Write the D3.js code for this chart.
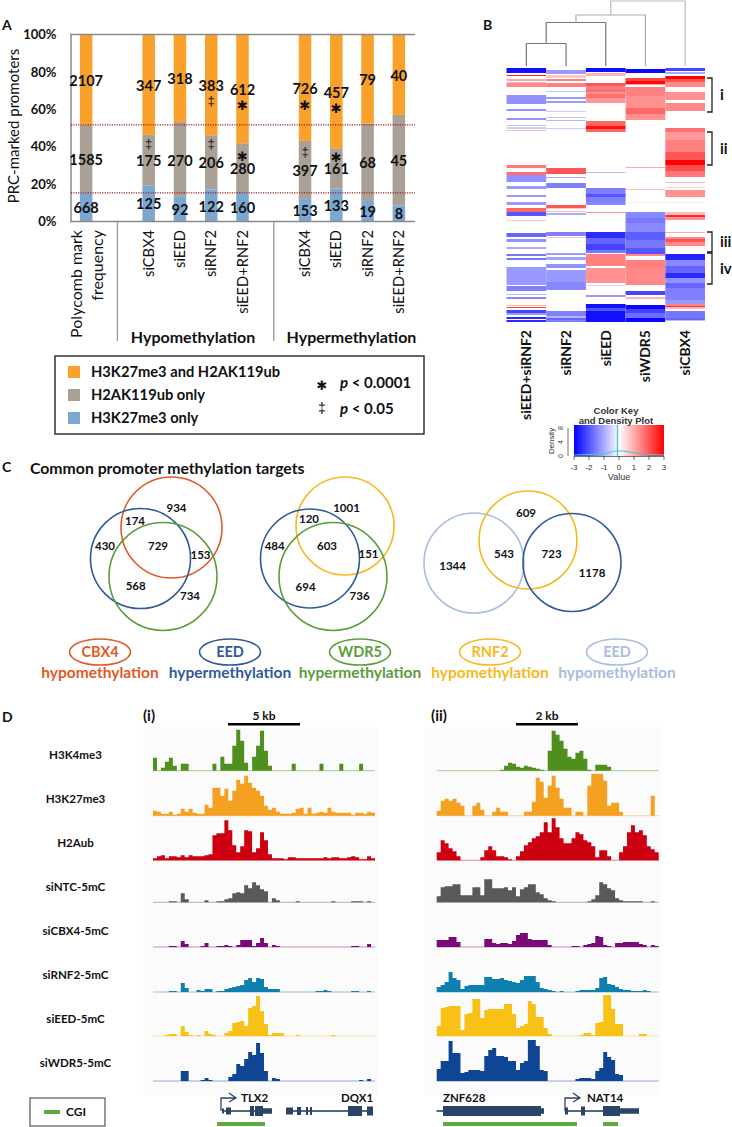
<!DOCTYPE html>
<html><head><meta charset="utf-8">
<script src="https://cdnjs.cloudflare.com/ajax/libs/d3/7.8.5/d3.min.js"></script>
<style>html,body{margin:0;padding:0;background:#fff}svg{display:block}text{font-family:Lato,sans-serif;fill:#111}</style>
</head><body><svg id="c" width="732" height="1127" viewBox="0 0 732 1127"></svg>
<script>
// ---------- Panel A data
const barSlots = ["freq","gapA","hypoCBX4","hypoEED","hypoRNF2","hypoBoth","gapB","hyperCBX4","hyperEED","hyperRNF2","hyperBoth"];
const barCats  = ["freq","hypoCBX4","hypoEED","hypoRNF2","hypoBoth","hyperCBX4","hyperEED","hyperRNF2","hyperBoth"];
const barNames = ["","siCBX4","siEED","siRNF2","siEED+RNF2","siCBX4","siEED","siRNF2","siEED+RNF2"];
const k27Only  = [668,125,92,122,160,153,133,19,8];
const ubOnly   = [1585,175,270,206,280,397,161,68,45];
const both     = [2107,347,318,383,612,726,457,79,40];
const bothLabelPct = [75.3,72.6,76.2,72.5,70.3,71.1,69,75.7,77.8];
const ubLabelPct   = [32.9,32.4,32.6,31.3,28.1,27,28.1,31.3,32.4];
const k27LabelPct  = [7.2,9.4,6.1,7.9,7.2,5.6,8.3,5.1,4];
const sigMarks = [["hypoCBX4",42,"‡"],["hypoRNF2",65,"‡"],["hypoRNF2",42,"‡"],["hypoBoth",61.8,"✱"],["hypoBoth",35,"✱"],["hyperCBX4",62.3,"✱"],["hyperCBX4",37.2,"‡"],["hyperEED",60.7,"✱"],["hyperEED",34.5,"✱"]];
const seriesNames = ["H3K27me3 only","H2AK119ub only","H3K27me3 and H2AK119ub"];
const seriesColors = ["#7ba7d1","#a9a196","#f9a12a"];
const yTicks = [0,.2,.4,.6,.8,1];
const refLines = [0.517,0.153];

// ---------- Panel B data: runs of rows [from,to,value]
const heatCols = ["siEED+siRNF2","siRNF2","siEED","siWDR5","siCBX4"];
const heat1 = [[0,5,-2.8],[7,8,2.6],[11,13,1],[14,15,.8],[15,19,1.4],[27,36,-1.3],[41,43,-1.3],[50,52,-1.3],[57,58,-.8],[59,61,-.6],[62,63,.8],[97,100,1.6],[104,107,1.7],[107,114,-1.3],[118,121,-1.2],[127,129,-1.2],[134,137,-1.2],[140,144,1.8],[144,148,-2],[152,153,.7],[165,169,-1.8],[171,174,-1.3],[179,181,-1],[186,188,-1.6],[190,192,-1.6],[199,217,-1.2],[218,223,-1.5],[226,227,-.9],[229,231,-1.4],[237,238,.9],[239,240,2.3],[242,245,-2.2],[245,247,-1.2],[249,251,-2.5],[252,254,-2.5]];
const heat2 = [[2,6,-1.2],[7,10,.7],[11,13,1.5],[15,19,1.5],[23,24,-.7],[29,31,-1.2],[33,35,-1.2],[43,44,-.6],[49,50,-.7],[52,53,-.9],[60,61,-.6],[100,106,2],[109,110,-1],[115,120,-1.5],[137,140,2],[140,141,.6],[143,144,.9],[145,147,-1],[164,168,-1.5],[169,170,.7],[185,187,-1.2],[189,192,-1.1],[196,200,-1.3],[202,214,-1.2],[214,222,-1.4],[243,248,-1.5],[248,250,-.9],[250,252,-1.8],[252,254,-1.5]];
const heat3 = [[0,4,-2.8],[5,8,.9],[15,18,2],[18,21,1.5],[21,24,1.7],[24,26,1.3],[26,30,1.7],[30,35,1.2],[53,58,1.8],[58,61,2.8],[61,64,1.8],[104,105,-.8],[120,126,-1.5],[126,129,-2],[129,134,-1.5],[134,137,-1.4],[144,145,1.3],[164,170,-2.5],[170,176,-1.8],[176,182,-2.2],[182,185,-1.6],[186,198,1.5],[200,215,1.3],[217,218,-.5],[227,229,-1.2],[236,240,-2.8],[240,243,-2],[243,254,-2.8]];
const heat4 = [[1,5,-2.9],[10,13,2.2],[13,16,2.9],[16,17,1.2],[19,28,1.5],[28,40,1.3],[40,46,1.8],[46,52,1.3],[99,100,1],[121,122,.8],[134,135,.25],[144,150,-1.4],[150,155,-1.6],[155,164,-1.4],[164,172,-1.9],[172,180,-1.6],[180,186,-2],[186,188,1.4],[192,200,1.5],[200,217,1.4],[223,227,-2.2],[229,231,.9],[237,241,-2.9],[241,245,-2.2],[245,250,-1.7],[250,254,-2.9]];
const heat5 = [[0,3,-2.2],[4,6,-1],[8,11,3],[11,14,2],[14,19,1.4],[24,32,1.3],[35,43,1.4],[60,64,1.7],[64,72,1.2],[72,84,1.5],[84,92,2],[92,97,3],[97,103,2.1],[103,109,1.6],[114,115,.9],[119,120,.6],[122,129,1.3],[134,135,.3],[144,147,.8],[147,149,2.5],[149,152,1.3],[164,165,1],[169,171,1.4],[171,174,2],[174,178,1.4],[186,192,-2.6],[192,198,-1.4],[198,205,-1.8],[205,210,-2.5],[210,215,-1.3],[215,220,-1.8],[220,232,-1.5],[232,236,-1.2],[236,238,1.5],[238,239,2.4],[239,241,.8],[243,250,-1.6],[250,252,-1.8],[252,253,-.8]];
const heatRuns = [heat1,heat2,heat3,heat4,heat5];
const dendroMerges = [[0,1,43.5],[null,2,22.5],[null,3,15],[null,4,1]];
const clusterNames = ["i","ii","iii","iv"];
const clusterRows = [[10,44],[64,97],[164,184],[185,216]];
const keyTicks = [-3,-2,-1,0,1,2,3];

// ---------- Panel C data
const vennColors = {cbx:"#e05a26",eed:"#2f5a9a",wdr:"#5a9e3a",rnf:"#f5b921",eedl:"#a9bddd"};
const vennSets = ["cbx","eed","wdr","rnf","eed","wdr","eedl","rnf","eed"];
const vennCounts1 = [934,174,430,729,153,568,734];
const vennCounts2 = [1001,120,484,603,151,694,736];
const vennCounts3 = [609,1344,543,723,1178];
const vennKeys = ["CBX4","EED","WDR5","RNF2","EED"];
const vennKeyDir = ["hypomethylation","hypermethylation","hypermethylation","hypomethylation","hypomethylation"];
const vennKeySets = ["cbx","eed","wdr","rnf","eedl"];

// ---------- Panel D data: signal per 4px genomic bin
const trackNames = ["H3K4me3","H3K27me3","H2Aub","siNTC-5mC","siCBX4-5mC","siRNF2-5mC","siEED-5mC","siWDR5-5mC"];
const trackColors = ["#4f8f1e","#f4a020","#cc0011","#595959","#7a0a78","#0f7fb0","#f7c215","#0f4595"];
const i1 = [13,0,3,9,13,5,0,7,7,0,0,0,0,0,0,7,0,14,7,7,25,41,30,8,0,14,25,40,20,5,0,0,0,0,0,7,0,0,0,0,0,0,7,0,0,0,0,7,0,0,0,0,7,0,0,0];
const i2 = [5,4,2,2,4,1,2,7,4,7,3,2,2,11,8,28,28,20,27,15,25,36,32,40,33,28,25,20,10,6,8,4,2,2,2,3,7,8,2,8,2,3,4,3,8,4,3,3,3,3,1,3,3,2,4,3];
const i3 = [2,4,5,2,4,4,3,5,3,5,4,4,4,5,6,25,27,27,40,30,15,8,14,30,29,8,12,28,20,6,2,2,2,1,3,3,2,2,2,2,2,2,2,3,2,3,3,2,2,3,4,3,1,1,4,2];
const i4 = [0,0,0,0,1,1,0,9,3,0,0,0,0,2,0,0,1,1,3,4,9,10,9,17,14,20,17,13,11,0,4,2,0,0,0,0,1,0,0,0,0,0,0,0,0,1,0,0,0,0,1,1,1,0,1,0];
const i5 = [0,0,0,0,1,1,0,6,3,0,0,0,1,4,0,0,1,1,2,1,0,2,7,7,7,1,4,9,4,0,2,1,0,0,0,0,0,0,0,0,0,0,0,0,0,0,0,0,0,0,1,1,0,0,3,0];
const i6 = [0,0,0,0,1,1,0,9,4,0,0,2,1,3,3,0,1,1,3,4,5,6,7,12,14,10,14,13,5,3,3,3,0,0,0,0,0,0,0,0,0,1,1,2,1,0,0,0,0,0,1,1,0,0,1,0];
const i7 = [0,0,0,1,2,2,0,10,4,1,0,1,0,5,2,1,0,0,3,5,13,14,15,10,28,30,40,25,12,1,3,3,3,0,0,0,1,0,0,0,0,0,0,0,0,1,0,0,0,0,0,0,0,0,0,0];
const i8 = [0,0,0,0,0,0,0,10,10,0,0,0,1,3,1,0,0,0,0,4,7,17,15,22,29,26,38,28,10,0,3,2,0,0,0,0,0,0,0,0,0,0,0,0,0,0,0,0,0,0,0,0,1,0,2,0];
const ii1 = [0,0,0,0,0,0,0,0,0,0,0,0,0,0,0,0,1,5,8,7,4,3,5,4,3,2,1,0,20,40,36,30,22,14,12,18,20,12,1,0,6,6,6,4,0,0,0,0,0,0,0,0,0,0,0,0];
const ii2 = [5,15,17,15,17,13,10,0,0,10,13,6,0,0,4,8,4,4,0,0,0,0,4,4,14,38,34,18,30,40,28,17,8,8,0,4,4,0,30,42,42,42,35,10,13,13,4,0,0,0,0,0,0,0,20,0];
const ii3 = [8,20,17,12,9,4,0,0,0,0,0,3,10,14,10,4,4,3,1,0,4,9,15,18,22,24,28,38,28,42,33,22,17,17,22,28,26,20,18,14,3,10,10,4,0,0,8,14,28,35,28,30,25,14,11,8];
const ii4 = [6,15,16,16,18,18,7,7,7,15,15,7,23,23,14,14,14,15,12,15,6,13,15,18,18,10,8,4,2,1,0,0,0,0,0,0,0,0,1,3,7,20,18,14,12,4,2,1,1,1,1,1,0,0,1,0];
const ii5 = [7,7,7,10,10,5,0,0,0,0,0,0,8,8,4,3,4,4,3,6,12,14,14,8,7,7,7,7,2,0,0,0,0,0,1,1,0,2,3,4,11,10,2,1,0,4,4,5,5,5,5,3,2,0,2,1];
const ii6 = [5,7,10,20,14,12,3,6,7,7,7,7,15,15,13,13,14,12,11,10,9,12,16,16,16,10,4,3,2,1,0,1,0,0,0,1,2,2,2,2,4,14,15,8,7,5,3,2,2,1,1,1,2,1,0,0];
const ii7 = [10,28,29,30,30,30,6,22,23,37,37,18,26,27,27,27,27,32,32,22,8,10,12,35,32,19,19,8,2,0,0,0,0,0,0,0,1,3,3,1,13,14,41,41,27,12,12,0,0,0,0,2,2,0,0,0];
const ii8 = [12,20,20,40,28,28,8,9,11,11,11,10,25,31,33,25,25,24,20,20,11,18,20,41,41,35,11,10,0,0,0,0,0,0,0,2,3,3,3,2,10,13,29,24,21,7,6,0,0,0,0,0,0,0,0,0];
const tracksI = [i1,i2,i3,i4,i5,i6,i7,i8];
const tracksII = [ii1,ii2,ii3,ii4,ii5,ii6,ii7,ii8];
const geneNames = ["TLX2","DQX1","ZNF628","NAT14"];

// ---------- drawing
const svg = d3.select("#c");
const FONT_ARIAL = "'Liberation Sans',sans-serif";
const FONT_MARK = "'DejaVu Sans',sans-serif";
function txt(g,x,y,s,o={}){
  const t=g.append("text").attr("x",x).attr("y",y).attr("dy",".35em").text(s)
    .attr("font-size",o.size||14).attr("font-weight",o.weight||"normal").attr("text-anchor",o.anchor||"middle");
  if(o.fill)t.style("fill",o.fill);
  if(o.family)t.style("font-family",o.family);
  if(o.rotate!=null)t.attr("transform",`rotate(${o.rotate} ${x} ${y})`);
  return t;
}
[["A",2,25],["B",483,25],["C",2,467],["D",2,717]].forEach(d=>txt(svg,d[1],d[2],d[0],{size:14,weight:700,anchor:"start"}));

// Panel A
const A = svg.append("g");
const xA = d3.scaleBand().domain(barSlots).range([70.5,414.5]).paddingInner(.6).paddingOuter(.3);
const yA = d3.scaleLinear().domain([0,1]).range([221.5,34.5]);
const rows = barCats.map((c,i)=>({cat:c,a:k27Only[i],b:ubOnly[i],c:both[i]}));
const stacked = d3.stack().keys(["a","b","c"]).offset(d3.stackOffsetExpand)(rows);
stacked.forEach((s,i)=>{
  A.append("g").selectAll("rect").data(s).join("rect")
    .attr("x",d=>xA(d.data.cat)).attr("width",xA.bandwidth())
    .attr("y",d=>yA(d[1])).attr("height",d=>yA(d[0])-yA(d[1])).attr("fill",seriesColors[i]);
});
const axY = d3.axisLeft(yA).tickValues(yTicks).tickFormat(d3.format(".0%")).tickSize(0).tickPadding(14);
const axg = A.append("g").attr("transform","translate(70.5,0)").call(axY);
axg.select(".domain").attr("stroke","#8a8a8a").attr("stroke-width",1.5);
axg.selectAll("text").attr("font-size",13).attr("font-weight",700).style("font-family","Lato,sans-serif");
A.append("line").attr("x1",70).attr("x2",415).attr("y1",yA(1)).attr("y2",yA(1)).attr("stroke","#8a8a8a").attr("stroke-width",1.5);
A.append("line").attr("x1",70).attr("x2",415).attr("y1",yA(0)).attr("y2",yA(0)).attr("stroke","#8a8a8a").attr("stroke-width",1.5);
refLines.forEach(v=>A.append("line").attr("x1",71).attr("x2",415).attr("y1",yA(v)).attr("y2",yA(v)).attr("stroke","#a32020").attr("stroke-width",1.2).attr("stroke-dasharray","1.2 1.2"));
["gapA","gapB"].forEach(g=>{const x=xA(g)+xA.bandwidth()/2;A.append("line").attr("x1",x).attr("x2",x).attr("y1",222).attr("y2",341).attr("stroke","#9a9a9a").attr("stroke-width",1.3);});
const ctr=c=>xA(c)+xA.bandwidth()/2;
[[both,bothLabelPct],[ubOnly,ubLabelPct],[k27Only,k27LabelPct]].forEach(([vals,pcts])=>{
  barCats.forEach((c,i)=>txt(A,ctr(c),yA(pcts[i]/100),vals[i],{size:14.5,weight:700}));
});
sigMarks.forEach(m=>{
  if(m[2]==="✱") txt(A,ctr(m[0]),yA(m[1]/100),m[2],{size:13,family:FONT_MARK});
  else txt(A,ctr(m[0]),yA(m[1]/100),m[2],{size:13,family:FONT_ARIAL});
});
txt(A,14,126,"PRC-marked promoters",{size:15,rotate:-90});
barCats.forEach((c,i)=>{ if(barNames[i]) txt(A,ctr(c),230,barNames[i],{size:14.7,rotate:-90,anchor:"end"}); });
txt(A,76,230,"Polycomb mark",{size:16,rotate:-90,anchor:"end"});
txt(A,97,230,"frequency",{size:16,rotate:-90,anchor:"end"});
txt(A,193,337,"Hypomethylation",{size:16,weight:700});
txt(A,351.5,337,"Hypermethylation",{size:16,weight:700});
A.append("rect").attr("x",55).attr("y",356).attr("width",369).attr("height",78).attr("fill","none").attr("stroke","#333").attr("stroke-width",1.5);
[2,1,0].forEach((s,i)=>{
  A.append("rect").attr("x",68).attr("y",366+23*i).attr("width",12).attr("height",12).attr("fill",seriesColors[s]);
  txt(A,91,372+23*i,seriesNames[s],{size:14.7,weight:700,anchor:"start"});
});
txt(A,322,385,"✱",{size:13,family:FONT_MARK});
txt(A,322,408,"‡",{size:14,family:FONT_ARIAL});
[["0.0001",383],["0.05",409]].forEach(([v,y])=>{
  const t=txt(A,340,y,"",{size:15,weight:700,anchor:"start"});
  t.append("tspan").attr("font-style","italic").text("p");
  t.append("tspan").text(" < "+v);
});

// Panel B
const B = svg.append("g");
const xB = d3.scaleBand().domain(heatCols).range([506.5,705]);
const yB = d3.scaleLinear().domain([0,254]).range([68,322]);
const cB = d3.scaleLinear().domain([-3,0,3]).range(["#0000ff","#ffffff","#ff0000"]);
heatCols.forEach((name,ci)=>{
  B.append("g").selectAll("rect").data(heatRuns[ci]).join("rect")
    .attr("x",xB(name)).attr("width",xB.bandwidth())
    .attr("y",d=>yB(d[0])).attr("height",d=>yB(d[1])-yB(d[0])).attr("fill",d=>cB(d[2]));
  txt(B,xB(name)+xB.bandwidth()/2,330,name,{size:14,weight:700,rotate:-90,anchor:"end"});
});
let prevX=null;
const dendroColors=["#777","#777","#aaa","#bbb"];
dendroMerges.forEach((m,i)=>{
  const lx=m[0]===null?prevX.x:xB(heatCols[m[0]])+xB.bandwidth()/2, ly=m[0]===null?prevX.y:66;
  const rx=xB(heatCols[m[1]])+xB.bandwidth()/2;
  B.append("path").attr("d",d3.line()([[lx,ly],[lx,m[2]],[rx,m[2]],[rx,66]])).attr("fill","none").attr("stroke",dendroColors[i]).attr("stroke-width",1.2);
  prevX={x:(lx+rx)/2,y:m[2]};
});
clusterNames.forEach((n,i)=>{
  const [a,b]=clusterRows[i].map(yB);
  B.append("path").attr("d",d3.line()([[707,a],[712,a],[712,b],[707,b]])).attr("fill","none").attr("stroke","#222").attr("stroke-width",1.3);
  txt(B,720,(a+b)/2,n,{size:15,weight:700,anchor:"start"});
});
// colour key
const keyX = d3.scaleLinear().domain([-3,3]).range([574,664]);
const defs=svg.append("defs");
const gr=defs.append("linearGradient").attr("id","kg");
[-3,-1.5,0,1.5,3].forEach(v=>gr.append("stop").attr("offset",(v+3)/6).attr("stop-color",cB(v)));
B.append("rect").attr("x",keyX(-3)).attr("y",425).attr("width",keyX(3)-keyX(-3)).attr("height",31).attr("fill","url(#kg)");
B.append("line").attr("x1",keyX(-.1)).attr("x2",keyX(-.1)).attr("y1",425).attr("y2",456).attr("stroke","#35d0d0").attr("stroke-width",1.3);
B.append("path").attr("d",d3.line()([[keyX(-3),455],[keyX(-1),454],[keyX(-.3),451],[keyX(.3),451],[keyX(1.5),454],[keyX(3),455]])).attr("fill","none").attr("stroke","#35d0d0").attr("stroke-width",1);
txt(B,616,411,"Color Key",{size:9.5,weight:700,family:FONT_ARIAL,fill:"#333"});
txt(B,616,421,"and Density Plot",{size:9.5,weight:700,family:FONT_ARIAL,fill:"#333"});
keyTicks.forEach(v=>{
  B.append("line").attr("x1",keyX(v)).attr("x2",keyX(v)).attr("y1",456).attr("y2",460).attr("stroke","#333").attr("stroke-width",.7);
  txt(B,keyX(v),467,v,{size:8,family:FONT_ARIAL,fill:"#333"});
});
B.append("line").attr("x1",keyX(-3)).attr("x2",keyX(3)).attr("y1",456.5).attr("y2",456.5).attr("stroke","#333").attr("stroke-width",.7);
txt(B,619,477,"Value",{size:9,family:FONT_ARIAL,fill:"#333"});
txt(B,551,441,"Density",{size:8,family:FONT_ARIAL,fill:"#333",rotate:-90});
const keyD=d3.scaleLinear().domain([0,8]).range([456,428]);
[0,4,8].forEach(v=>txt(B,561,keyD(v),v,{size:7,family:FONT_ARIAL,fill:"#333",rotate:-90}));
B.append("line").attr("x1",568).attr("x2",568).attr("y1",keyD(8)).attr("y2",keyD(0)).attr("stroke","#333").attr("stroke-width",.7);

// Panel C
const C = svg.append("g");
txt(C,30,468,"Common promoter methylation targets",{size:15.8,weight:700,anchor:"start"});
const vennCircles=[[171.5,527.5,50.5],[140.5,558.5,50],[163,576.5,54],[345,526,49],[310,558.5,49.5],[333,576.5,54],[474,563,50],[528,540,49],[572,562.5,49]];
C.append("g").selectAll("circle").data(vennCircles).join("circle")
  .attr("cx",d=>d[0]).attr("cy",d=>d[1]).attr("r",d=>d[2]).attr("fill","none")
  .attr("stroke",(d,i)=>vennColors[vennSets[i]]).attr("stroke-width",1.6);
const vp1=[[176.5,507.7],[135,520.7],[105,545.7],[158,545.7],[200.5,555],[135.7,586],[190,596]];
const vp2=[[346.5,507.7],[309,519],[274.7,546],[327,546],[368.5,553.7],[305.6,586.7],[359.6,596.3]];
const vp3=[[526,513],[452.6,565.7],[504,553.7],[551.6,554],[592,573]];
[[vennCounts1,vp1],[vennCounts2,vp2],[vennCounts3,vp3]].forEach(([vals,ps])=>vals.forEach((v,i)=>txt(C,ps[i][0],ps[i][1],v,{size:11.5,weight:700})));
const keyCx=[100,230,360,490,617];
vennKeys.forEach((k,i)=>{
  const col=vennColors[vennKeySets[i]];
  C.append("ellipse").attr("cx",keyCx[i]).attr("cy",652).attr("rx",30.5).attr("ry",13).attr("fill","none").attr("stroke",col).attr("stroke-width",1.6);
  txt(C,keyCx[i],652,k,{size:14.5,weight:700,fill:col});
  txt(C,keyCx[i],673,vennKeyDir[i],{size:15.5,weight:700,fill:col});
});

// Panel D
const D = svg.append("g");
const bases=[770.7,815.7,860.3,902.3,947,992,1036,1081];
const panels=[{x0:153,tracks:tracksI},{x0:436.7,tracks:tracksII}];
D.append("rect").attr("x",143).attr("y",727).attr("width",235).attr("height",368).attr("fill","#fbfbfb");
D.append("rect").attr("x",425).attr("y",727).attr("width",236).attr("height",368).attr("fill","#fbfbfb");
panels.forEach(p=>{
  const xD=d3.scaleLinear().domain([0,56]).range([p.x0,p.x0+222]);
  p.tracks.forEach((vals,i)=>{
    const yD=d3.scaleLinear().domain([0,42]).range([bases[i],bases[i]-42]);
    const pts=vals.concat([vals[vals.length-1]]);
    D.append("line").attr("x1",xD(0)).attr("x2",xD(56)).attr("y1",bases[i]).attr("y2",bases[i]).attr("stroke",trackColors[i]).attr("stroke-opacity",.45).attr("stroke-width",1);
    D.append("path").attr("d",d3.area().x((d,j)=>xD(j)).y0(bases[i]).y1(d=>yD(d)).curve(d3.curveStepAfter)(pts)).attr("fill",trackColors[i]);
  });
});
trackNames.forEach((n,i)=>txt(D,75.5,755+44*i,n,{size:11.6,weight:700}));
txt(D,149,716,"(i)",{size:15,weight:700});
txt(D,439,716,"(ii)",{size:15,weight:700});
[[228,300,"5 kb"],[516,578,"2 kb"]].forEach(([a,b,s])=>{
  D.append("rect").attr("x",a).attr("y",723).attr("width",b-a).attr("height",2.5).attr("fill","#000");
  txt(D,(a+b)/2,716,s,{size:12,weight:700});
});
const geneC="#2a4468", gy=1111;
const exon=(a,b,h)=>D.append("rect").attr("x",a).attr("width",b-a).attr("y",gy-h/2).attr("height",h).attr("fill",geneC);
const gline=(a,b)=>exon(a,b,1.6);
const arrow=(x)=>D.append("path").attr("d",`M${x},${gy}V1098H${x+15}M${x+8},1093L${x+15},1098L${x+8},1102`).attr("fill","none").attr("stroke",geneC).attr("stroke-width",1.3);
// TLX2
gline(222,272);[[222,224,5],[226,231,7],[250,254,10],[255,263,10],[263,272,5.5]].forEach(e=>exon(...e));arrow(221);
// DQX1
gline(286,373);[[286,293,7],[297,301,8],[306,308,8],[310,312,8],[348,352,10],[352,362,10],[367,373,9]].forEach(e=>exon(...e));
// ZNF628
gline(436.5,443);[[443,541,10],[541,544,5.5]].forEach(e=>exon(...e));
// NAT14
gline(565,603);[[565,568,7],[581,585,9],[603,620,10],[620,639,5.5]].forEach(e=>exon(...e));arrow(565);
[[241,geneNames[0]],[341,geneNames[1]],[443,geneNames[2]],[587,geneNames[3]]].forEach(([x,n])=>txt(D,x,1098,n,{size:11.5,weight:700,anchor:"start"}));
[[217,265],[443,577],[603,618]].forEach(([a,b])=>D.append("rect").attr("x",a).attr("y",1122).attr("width",b-a).attr("height",4).attr("fill","#5aab3c"));
D.append("rect").attr("x",30).attr("y",1098).attr("width",75).attr("height",28).attr("fill","none").attr("stroke","#555").attr("stroke-width",1.2);
D.append("rect").attr("x",44).attr("y",1110).attr("width",16).attr("height",4).attr("fill","#5aab3c");
txt(D,66,1112,"CGI",{size:12,weight:700,anchor:"start"});
</script></body></html>
